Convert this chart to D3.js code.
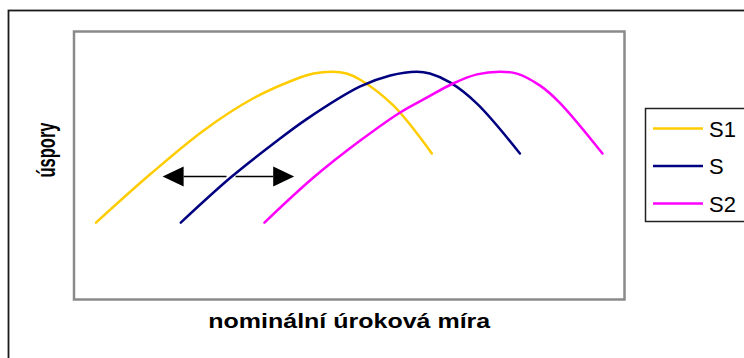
<!DOCTYPE html>
<html>
<head>
<meta charset="utf-8">
<script src="https://cdn.jsdelivr.net/npm/d3@7"></script>
<style>
  body { margin: 0; background: #fff; }
  text { font-family: "Liberation Sans", Arial, sans-serif; }
</style>
</head>
<body>
<div id="chart"></div>
<script>
// series data (x = nominal interest rate, y = savings, arbitrary units)
const s1X = [0.8, 2.8, 4.7, 6.5, 8.0, 8.7, 9.4, 9.9, 10.4, 11.6, 13.0];
const s1Y = [2.87, 4.7, 6.3, 7.5, 8.2, 8.43, 8.5, 8.43, 8.2, 7.24, 5.45];
const sX  = [3.88, 5.69, 7.25, 8.48, 10.4, 11.49, 12.46, 12.93, 13.66, 14.64, 16.2];
const sY  = [2.87, 4.55, 5.82, 6.75, 7.95, 8.36, 8.5, 8.43, 8.10, 7.31, 5.45];
const s2X = [6.92, 8.7, 10.4, 11.85, 12.83, 13.77, 14.64, 15.47, 16.09, 16.92, 17.64, 19.2];
const s2Y = [2.87, 4.55, 5.93, 6.98, 7.54, 8.06, 8.40, 8.5, 8.43, 7.99, 7.35, 5.45];

const seriesNames = ["S1", "S", "S2"];
const seriesColors = ["#FFCC00", "#000080", "#FF00FF"];

// shift arrows: [from x, to x] at level arrowY
const arrowY = 4.59;
const arrows = [[5.54, 3.22], [5.87, 8.0]];

const xTitle = "nominální úroková míra";
const yTitle = "úspory";

const width = 744, height = 358;
const plot = { left: 74, top: 31.5, right: 624.5, bottom: 299.5 };

const svg = d3.select("#chart").append("svg")
    .attr("width", width)
    .attr("height", height);

// outer chart-area border (runs off the right and bottom edges)
svg.append("rect")
    .attr("x", 8.5).attr("y", 10.5)
    .attr("width", 800).attr("height", 400)
    .attr("fill", "white")
    .attr("stroke", "#1a1a1a")
    .attr("stroke-width", 1.8);

// plot frame
svg.append("rect")
    .attr("x", plot.left).attr("y", plot.top)
    .attr("width", plot.right - plot.left)
    .attr("height", plot.bottom - plot.top)
    .attr("fill", "white")
    .attr("stroke", "#8a8a8a")
    .attr("stroke-width", 2.5);

const x = d3.scaleLinear().domain([0, 20]).range([plot.left, plot.right]);
const y = d3.scaleLinear().domain([0, 10]).range([plot.bottom, plot.top]);

const line = d3.line()
    .x(d => x(d[0]))
    .y(d => y(d[1]))
    .curve(d3.curveCatmullRom.alpha(0.5));

const series = [
    d3.zip(s1X, s1Y),
    d3.zip(sX, sY),
    d3.zip(s2X, s2Y)
];

svg.selectAll(".series")
    .data(series)
    .enter().append("path")
    .attr("class", "series")
    .attr("d", line)
    .attr("fill", "none")
    .attr("stroke", (d, i) => seriesColors[i])
    .attr("stroke-width", 2.5)
    .attr("stroke-linecap", "round");

// arrows
const headLen = 21, headHalf = 10;
arrows.forEach(a => {
    const x0 = x(a[0]), x1 = x(a[1]), yy = y(arrowY);
    const dir = x1 > x0 ? 1 : -1;
    svg.append("line")
        .attr("x1", x0).attr("x2", x1 - dir * headLen)
        .attr("y1", yy).attr("y2", yy)
        .attr("stroke", "black")
        .attr("stroke-width", 1.5);
    svg.append("path")
        .attr("d", `M${x1},${yy} L${x1 - dir * headLen},${yy - headHalf} L${x1 - dir * headLen},${yy + headHalf} Z`)
        .attr("fill", "black");
});

// axis titles
svg.append("text")
    .attr("x", (plot.left + plot.right) / 2)
    .attr("y", 328)
    .attr("text-anchor", "middle")
    .attr("font-size", 21)
    .attr("font-weight", "bold")
    .attr("textLength", 282)
    .attr("lengthAdjust", "spacingAndGlyphs")
    .text(xTitle);

svg.append("text")
    .attr("transform", `translate(55, 150) rotate(-90)`)
    .attr("text-anchor", "middle")
    .attr("font-size", 25)
    .attr("font-weight", "bold")
    .attr("textLength", 55)
    .attr("lengthAdjust", "spacingAndGlyphs")
    .text(yTitle);

// legend
const legend = svg.append("g").attr("class", "legend");
legend.append("rect")
    .attr("x", 645.5).attr("y", 108.5)
    .attr("width", 200).attr("height", 113)
    .attr("fill", "white")
    .attr("stroke", "#222")
    .attr("stroke-width", 1.5);

const legendY = [128.5, 166, 203.5];
seriesNames.forEach((name, i) => {
    legend.append("line")
        .attr("x1", 653).attr("x2", 703)
        .attr("y1", legendY[i]).attr("y2", legendY[i])
        .attr("stroke", seriesColors[i])
        .attr("stroke-width", 2.5);
    legend.append("text")
        .attr("x", 709)
        .attr("y", legendY[i] + 8)
        .attr("font-size", 22)
        .text(name);
});
</script>
</body>
</html>
